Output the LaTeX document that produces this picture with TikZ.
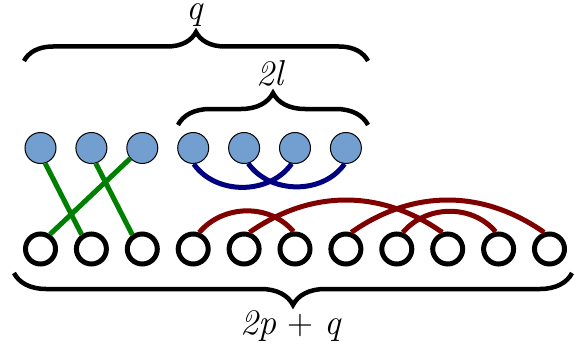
\documentclass[tikz,border=0pt]{standalone}
\usetikzlibrary{decorations.pathreplacing}
\definecolor{topfill}{RGB}{114,159,207}
\definecolor{edgegreen}{RGB}{0,128,0}
\definecolor{edgenavy}{RGB}{0,0,128}
\definecolor{edgemaroon}{RGB}{128,0,0}
\begin{document}
\begin{tikzpicture}[x=1pt,y=-1pt,
  topv/.style={circle,draw=black,line width=1pt,fill=topfill,minimum size=31pt,inner sep=0pt},
  botv/.style={circle,draw=black,line width=5pt,fill=white,minimum size=30pt,inner sep=0pt},
  gedge/.style={draw=edgegreen,line width=5pt},
  nedge/.style={draw=edgenavy,line width=5pt},
  redge/.style={draw=edgemaroon,line width=5pt},
  bracestyle/.style={draw=black,line width=4.5pt,decorate},
  lbl/.style={inner sep=0pt,anchor=base,font=\fontsize{36}{40}\selectfont}
]
\useasboundingbox (0,0) rectangle (581,353);
% vertices
\foreach \i in {1,...,7}{
  \node[topv] (t\i) at ({40.5+50.9*(\i-1)},148) {};
}
\foreach \i in {1,...,11}{
  \coordinate (c\i) at ({40.5+50.9*(\i-1)},249);
}
\foreach \i in {1,...,11}{
  \node[botv] (b\i) at (c\i) {};
}
% green edges
\draw[gedge] (t1.-73) -- (b2.124);
\draw[gedge] (t2.-74) -- (b3.125);
\draw[gedge] (t3.221) -- (b1.57);
% navy edges
\draw[nedge] (t4.-88) to[out=-55,in=-125] (t6.-102);
\draw[nedge] (t5.-75) to[out=-55,in=-125] (t7.-95);
% maroon edges
\draw[redge] (b4.70) to[out=50,in=130] (b6.95);
\draw[redge] (b8.70) to[out=50,in=130] (b10.100);
\draw[redge] (b5.72) to[out=35,in=145] (b9.108);
\draw[redge] (b7.72) to[out=35,in=145] (b11.108);
% braces
\coordinate (qa) at (24,61);
\coordinate (qb) at (368,61);
\coordinate (la) at (178,125);
\coordinate (lb) at (368,125);
\coordinate (pa) at (572,273);
\coordinate (pb) at (14,273);
\draw[bracestyle,decoration={brace,amplitude=29pt}] (qa) -- (qb);
\draw[bracestyle,decoration={brace,amplitude=32pt}] (la) -- (lb);
\draw[bracestyle,decoration={brace,amplitude=32pt}] (pa) -- (pb);
% labels
\node[lbl] (lq) at (195,20) {\textit{q}};
\node[lbl] (ll) at (271,85) {\textit{2l}};
\node[lbl] (lp) at (291,334) {\textit{2p} + \textit{q}};
\end{tikzpicture}
\end{document}
